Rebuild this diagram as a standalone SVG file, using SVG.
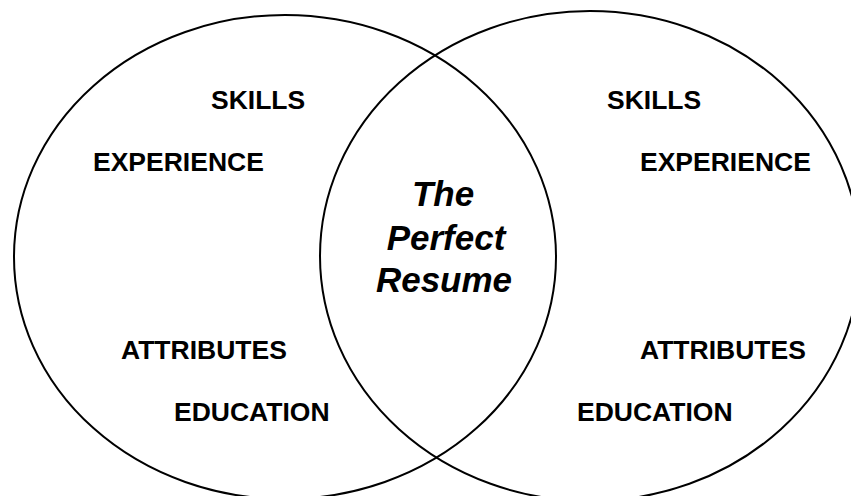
<svg xmlns="http://www.w3.org/2000/svg" width="851" height="496" viewBox="0 0 851 496">
  <style>
    .ring { fill: none; stroke: #000; stroke-width: 2; }
    .label { font-family: "Liberation Sans", Arial, sans-serif; font-weight: bold; font-size: 26.5px; fill: #000; }
    .title { font-family: "Liberation Sans", Arial, sans-serif; font-weight: bold; font-style: italic; font-size: 35px; fill: #000; text-anchor: middle; }
  </style>
  <rect width="851" height="496" fill="#fff"/>

  <g id="left-set">
    <ellipse class="ring" cx="285" cy="257" rx="271" ry="242"/>
    <text class="label" x="211" y="109">SKILLS</text>
    <text class="label" x="93" y="171">EXPERIENCE</text>
    <text class="label" x="121" y="359">ATTRIBUTES</text>
    <text class="label" x="174" y="421">EDUCATION</text>
  </g>

  <g id="right-set">
    <ellipse class="ring" cx="590" cy="256" rx="270" ry="245"/>
    <text class="label" x="607" y="109">SKILLS</text>
    <text class="label" x="640" y="171">EXPERIENCE</text>
    <text class="label" x="640" y="359">ATTRIBUTES</text>
    <text class="label" x="577" y="421">EDUCATION</text>
  </g>

  <g id="overlap">
    <text class="title" x="443" y="206">The</text>
    <text class="title" x="446" y="250">Perfect</text>
    <text class="title" x="444" y="292">Resume</text>
  </g>
</svg>
